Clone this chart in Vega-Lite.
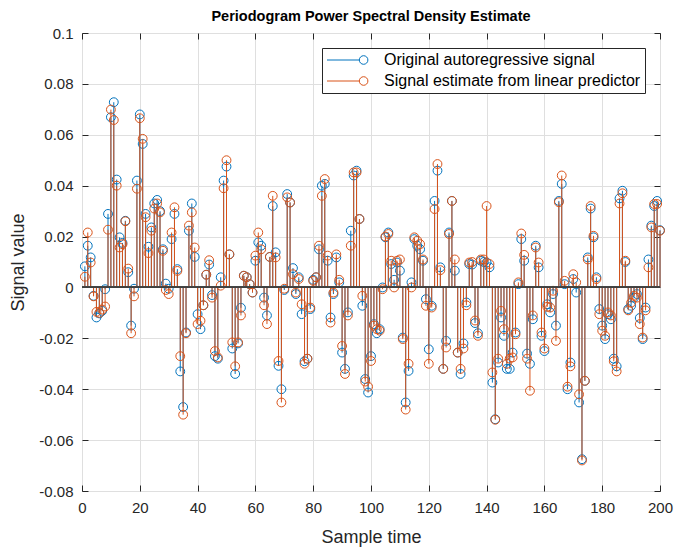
{
  "$schema": "https://vega.github.io/schema/vega-lite/v6.json",
  "width": 578,
  "height": 458,
  "autosize": "none",
  "padding": {"left": 82, "top": 33, "right": 16, "bottom": 56},
  "background": "white",
  "title": {"text": "Periodogram Power Spectral Density Estimate", "font": "Liberation Sans", "fontSize": 14.5, "fontWeight": "bold", "color": "#000000", "offset": 2, "anchor": "middle"},
  "config": {
    "view": {"stroke": "#262626", "strokeWidth": 1},
    "axis": {"labelFont": "Liberation Sans", "labelFontSize": 15, "labelColor": "#262626", "titleFont": "Liberation Sans", "titleFontSize": 18, "titleFontWeight": "normal", "titleColor": "#262626", "gridColor": "#dfdfdf", "gridWidth": 1, "tickColor": "#262626", "domain": false, "labelFlush": false, "labelOverlap": false}
  },
  "data": {"values": [
    {"n":1,"a":0.0083,"b":0.0042},{"n":2,"a":0.0164,"b":0.0216},{"n":3,"a":0.0118,"b":0.0098},{"n":4,"a":-0.0033,"b":-0.0035},{"n":5,"a":-0.0118,"b":-0.0096},
    {"n":6,"a":-0.0102,"b":-0.0100},{"n":7,"a":-0.0092,"b":-0.0087},{"n":8,"a":-0.0007,"b":-0.0075},{"n":9,"a":0.0289,"b":0.0227},{"n":10,"a":0.0669,"b":0.0699},
    {"n":11,"a":0.0728,"b":0.0658},{"n":12,"a":0.0424,"b":0.0400},{"n":13,"a":0.0197,"b":0.0157},{"n":14,"a":0.0175,"b":0.0170},{"n":15,"a":0.0262,"b":0.0260},
    {"n":16,"a":0.0060,"b":0.0074},{"n":17,"a":-0.0150,"b":-0.0180},{"n":18,"a":-0.0005,"b":-0.0035},{"n":19,"a":0.0420,"b":0.0388},{"n":20,"a":0.0680,"b":0.0665},
    {"n":21,"a":0.0564,"b":0.0584},{"n":22,"a":0.0289,"b":0.0276},{"n":23,"a":0.0160,"b":0.0135},{"n":24,"a":0.0236,"b":0.0223},{"n":25,"a":0.0330,"b":0.0310},
    {"n":26,"a":0.0344,"b":0.0330},{"n":27,"a":0.0300,"b":0.0295},{"n":28,"a":0.0150,"b":0.0144},{"n":29,"a":0.0015,"b":-0.0010},{"n":30,"a":-0.0005,"b":-0.0026},
    {"n":31,"a":0.0190,"b":0.0216},{"n":32,"a":0.0289,"b":0.0315},{"n":33,"a":0.0072,"b":0.0065},{"n":34,"a":-0.0330,"b":-0.0270},{"n":35,"a":-0.0470,"b":-0.0500},
    {"n":36,"a":-0.0177,"b":-0.0180},{"n":37,"a":0.0223,"b":0.0243},{"n":38,"a":0.0330,"b":0.0295},{"n":39,"a":0.0120,"b":0.0157},{"n":40,"a":-0.0105,"b":-0.0144},
    {"n":41,"a":-0.0164,"b":-0.0131},{"n":42,"a":-0.0070,"b":-0.0070},{"n":43,"a":0.0050,"b":0.0050},{"n":44,"a":0.0090,"b":0.0107},{"n":45,"a":-0.0030,"b":-0.0040},
    {"n":46,"a":-0.0270,"b":-0.0250},{"n":47,"a":-0.0280,"b":-0.0275},{"n":48,"a":0.0040,"b":0.0007},{"n":49,"a":0.0420,"b":0.0390},{"n":50,"a":0.0475,"b":0.0500},
    {"n":51,"a":0.0130,"b":0.0130},{"n":52,"a":-0.0240,"b":-0.0216},{"n":53,"a":-0.0340,"b":-0.0310},{"n":54,"a":-0.0220,"b":-0.0216},{"n":55,"a":-0.0080,"b":-0.0110},
    {"n":56,"a":0.0046,"b":0.0046},{"n":57,"a":0.0040,"b":0.0040},{"n":58,"a":0.0013,"b":0.0013},{"n":59,"a":-0.0020,"b":-0.0020},{"n":60,"a":0.0105,"b":0.0125},
    {"n":61,"a":0.0177,"b":0.0216},{"n":62,"a":0.0164,"b":0.0150},{"n":63,"a":-0.0040,"b":-0.0070},{"n":64,"a":-0.0110,"b":-0.0144},{"n":65,"a":0.0120,"b":0.0120},
    {"n":66,"a":0.0320,"b":0.0360},{"n":67,"a":0.0138,"b":0.0118},{"n":68,"a":-0.0308,"b":-0.0289},{"n":69,"a":-0.0400,"b":-0.0452},{"n":70,"a":-0.0010,"b":-0.0005},
    {"n":71,"a":0.0367,"b":0.0354},{"n":72,"a":0.0334,"b":0.0334},{"n":73,"a":0.0076,"b":0.0052},{"n":74,"a":-0.0026,"b":-0.0020},{"n":75,"a":0.0040,"b":0.0033},
    {"n":76,"a":-0.0105,"b":-0.0066},{"n":77,"a":-0.0290,"b":-0.0300},{"n":78,"a":-0.0280,"b":-0.0280},{"n":79,"a":-0.0085,"b":-0.0079},{"n":80,"a":0.0030,"b":0.0026},
    {"n":81,"a":0.0040,"b":0.0040},{"n":82,"a":0.0150,"b":0.0164},{"n":83,"a":0.0400,"b":0.0360},{"n":84,"a":0.0407,"b":0.0426},{"n":85,"a":0.0105,"b":0.0125},
    {"n":86,"a":-0.0118,"b":-0.0138},{"n":87,"a":-0.0026,"b":-0.0020},{"n":88,"a":0.0118,"b":0.0130},{"n":89,"a":0.0020,"b":0.0030},{"n":90,"a":-0.0256,"b":-0.0230},
    {"n":91,"a":-0.0320,"b":-0.0340},{"n":92,"a":-0.0098,"b":-0.0110},{"n":93,"a":0.0223,"b":0.0164},{"n":94,"a":0.0440,"b":0.0452},{"n":95,"a":0.0459,"b":0.0452},
    {"n":96,"a":0.0269,"b":0.0269},{"n":97,"a":-0.0072,"b":-0.0033},{"n":98,"a":-0.0360,"b":-0.0370},{"n":99,"a":-0.0413,"b":-0.0390},{"n":100,"a":-0.0270,"b":-0.0289},
    {"n":101,"a":-0.0144,"b":-0.0150},{"n":102,"a":-0.0180,"b":-0.0164},{"n":103,"a":-0.0164,"b":-0.0170},{"n":104,"a":0.0000,"b":-0.0007},{"n":105,"a":0.0197,"b":0.0200},
    {"n":106,"a":0.0216,"b":0.0210},{"n":107,"a":0.0092,"b":0.0105},{"n":108,"a":0.0030,"b":0.0000},{"n":109,"a":0.0098,"b":0.0105},{"n":110,"a":0.0066,"b":0.0110},
    {"n":111,"a":-0.0197,"b":-0.0203},{"n":112,"a":-0.0452,"b":-0.0480},{"n":113,"a":-0.0328,"b":-0.0300},{"n":114,"a":0.0020,"b":0.0000},{"n":115,"a":0.0190,"b":0.0197},
    {"n":116,"a":0.0164,"b":0.0184},{"n":117,"a":0.0150,"b":0.0170},{"n":118,"a":0.0105,"b":0.0110},{"n":119,"a":-0.0046,"b":-0.0072},{"n":120,"a":-0.0243,"b":-0.0300},
    {"n":121,"a":-0.0072,"b":-0.0079},{"n":122,"a":0.0340,"b":0.0308},{"n":123,"a":0.0459,"b":0.0485},{"n":124,"a":0.0079,"b":0.0068},{"n":125,"a":-0.0320,"b":-0.0320},
    {"n":126,"a":-0.0210,"b":-0.0236},{"n":127,"a":0.0216,"b":0.0210},{"n":128,"a":0.0340,"b":0.0340},{"n":129,"a":0.0066,"b":0.0110},{"n":130,"a":-0.0256,"b":-0.0256},
    {"n":131,"a":-0.0340,"b":-0.0320},{"n":132,"a":-0.0220,"b":-0.0240},{"n":133,"a":-0.0059,"b":-0.0070},{"n":134,"a":0.0092,"b":0.0098},{"n":135,"a":0.0090,"b":0.0100},
    {"n":136,"a":-0.0140,"b":-0.0130},{"n":137,"a":-0.0180,"b":-0.0190},{"n":138,"a":0.0105,"b":0.0110},{"n":139,"a":0.0100,"b":0.0110},{"n":140,"a":0.0098,"b":0.0320},
    {"n":141,"a":0.0079,"b":0.0092},{"n":142,"a":-0.0374,"b":-0.0334},{"n":143,"a":-0.0518,"b":-0.0520},{"n":144,"a":-0.0295,"b":-0.0280},{"n":145,"a":-0.0118,"b":-0.0092},
    {"n":146,"a":-0.0190,"b":-0.0164},{"n":147,"a":-0.0320,"b":-0.0300},{"n":148,"a":-0.0320,"b":-0.0280},{"n":149,"a":-0.0256,"b":-0.0275},{"n":150,"a":-0.0177,"b":-0.0184},
    {"n":151,"a":0.0013,"b":0.0020},{"n":152,"a":0.0190,"b":0.0212},{"n":153,"a":0.0105,"b":0.0128},{"n":154,"a":-0.0260,"b":-0.0280},{"n":155,"a":-0.0300,"b":-0.0406},
    {"n":156,"a":-0.0125,"b":-0.0110},{"n":157,"a":0.0164,"b":0.0157},{"n":158,"a":0.0079,"b":0.0098},{"n":159,"a":-0.0190,"b":-0.0177},{"n":160,"a":-0.0250,"b":-0.0240},
    {"n":161,"a":-0.0066,"b":-0.0076},{"n":162,"a":-0.0098,"b":-0.0079},{"n":163,"a":-0.0026,"b":-0.0013},{"n":164,"a":-0.0150,"b":-0.0210},{"n":165,"a":0.0340,"b":0.0335},
    {"n":166,"a":0.0407,"b":0.0440},{"n":167,"a":0.0013,"b":0.0026},{"n":168,"a":-0.0400,"b":-0.0390},{"n":169,"a":-0.0295,"b":-0.0310},{"n":170,"a":0.0033,"b":0.0052},
    {"n":171,"a":-0.0020,"b":0.0020},{"n":172,"a":-0.0452,"b":-0.0420},{"n":173,"a":-0.0675,"b":-0.0680},{"n":174,"a":-0.0367,"b":-0.0367},{"n":175,"a":0.0118,"b":0.0110},
    {"n":176,"a":0.0310,"b":0.0320},{"n":177,"a":0.0197,"b":0.0203},{"n":178,"a":0.0040,"b":0.0033},{"n":179,"a":-0.0085,"b":-0.0105},{"n":180,"a":-0.0150,"b":-0.0170},
    {"n":181,"a":-0.0203,"b":-0.0190},{"n":182,"a":-0.0105,"b":-0.0098},{"n":183,"a":-0.0125,"b":-0.0110},{"n":184,"a":-0.0280,"b":-0.0290},{"n":185,"a":-0.0310,"b":-0.0330},
    {"n":186,"a":0.0350,"b":0.0330},{"n":187,"a":0.0380,"b":0.0370},{"n":188,"a":0.0100,"b":0.0105},{"n":189,"a":-0.0085,"b":-0.0090},{"n":190,"a":-0.0072,"b":-0.0060},
    {"n":191,"a":-0.0040,"b":-0.0033},{"n":192,"a":-0.0026,"b":-0.0040},{"n":193,"a":-0.0120,"b":-0.0144},{"n":194,"a":-0.0203,"b":-0.0197},{"n":195,"a":-0.0079,"b":-0.0090},
    {"n":196,"a":0.0110,"b":0.0079},{"n":197,"a":0.0243,"b":0.0236},{"n":198,"a":0.0320,"b":0.0328},{"n":199,"a":0.0340,"b":0.0328},{"n":200,"a":0.0225,"b":0.0223}
  ]},
  "resolve": {"axis": {"x": "independent", "y": "independent"}},
  "layer": [
    {
      "mark": {"type": "rule", "strokeWidth": 1},
      "encoding": {
        "x": {"field": "n", "type": "quantitative", "scale": {"domain": [0, 200], "nice": false, "zero": false},
              "axis": {"orient": "bottom", "values": [0,20,40,60,80,100,120,140,160,180,200], "title": "Sample time", "grid": true, "tickSize": -6, "labelPadding": 15, "titlePadding": 13}},
        "y": {"field": "a", "type": "quantitative", "scale": {"domain": [-0.08, 0.1], "nice": false, "zero": false},
              "axis": {"orient": "left", "values": [-0.08,-0.06,-0.04,-0.02,0,0.02,0.04,0.06,0.08,0.1], "title": "Signal value", "grid": true, "tickSize": -6, "labelPadding": 15, "titlePadding": 11,
                       "labelExpr": "replace(format(datum.value, '.2~f'), '\u2212', '-')"}},
        "y2": {"datum": 0},
        "color": {"datum": "Original autoregressive signal", "type": "nominal",
                  "scale": {"domain": ["Original autoregressive signal", "Signal estimate from linear predictor"], "range": ["#0072BD", "#D95319"]},
                  "legend": {"title": null, "orient": "none", "legendX": 240, "legendY": 15, "direction": "vertical",
                             "labelFont": "Liberation Sans", "labelFontSize": 16, "labelColor": "#000000", "labelLimit": 400,
                             "fillColor": "white", "strokeColor": "#262626", "padding": 4, "rowPadding": 5,
                             "symbolType": "M-1,0L3.614,0M4.843,0A0.614,0.614,0,1,1,3.614,0A0.614,0.614,0,1,1,4.843,0",
                             "symbolSize": 196, "symbolStrokeWidth": 1, "symbolFillColor": "transparent", "labelOffset": 42}}
      }
    },
    {
      "mark": {"type": "point", "shape": "circle", "filled": false, "size": 78, "strokeWidth": 1, "opacity": 1},
      "encoding": {
        "x": {"field": "n", "type": "quantitative", "axis": null},
        "y": {"field": "a", "type": "quantitative", "axis": null},
        "color": {"datum": "Original autoregressive signal", "type": "nominal"}
      }
    },
    {
      "mark": {"type": "rule", "strokeWidth": 1},
      "encoding": {
        "x": {"field": "n", "type": "quantitative", "axis": null},
        "y": {"field": "b", "type": "quantitative", "axis": null},
        "y2": {"datum": 0},
        "color": {"datum": "Signal estimate from linear predictor", "type": "nominal"}
      }
    },
    {
      "mark": {"type": "point", "shape": "circle", "filled": false, "size": 78, "strokeWidth": 1, "opacity": 1},
      "encoding": {
        "x": {"field": "n", "type": "quantitative", "axis": null},
        "y": {"field": "b", "type": "quantitative", "axis": null},
        "color": {"datum": "Signal estimate from linear predictor", "type": "nominal"}
      }
    },
    {
      "mark": {"type": "rule", "color": "#404040", "strokeWidth": 1},
      "encoding": {"y": {"datum": 0, "type": "quantitative", "axis": null}}
    },
    {
      "mark": {"type": "point", "opacity": 0},
      "encoding": {
        "x": {"field": "n", "type": "quantitative", "axis": {"orient": "top", "values": [0,20,40,60,80,100,120,140,160,180,200], "labels": false, "title": null, "grid": false, "tickSize": -6}},
        "y": {"field": "a", "type": "quantitative", "axis": {"orient": "right", "values": [-0.08,-0.06,-0.04,-0.02,0,0.02,0.04,0.06,0.08,0.1], "labels": false, "title": null, "grid": false, "tickSize": -6}}
      }
    }
  ]
}
